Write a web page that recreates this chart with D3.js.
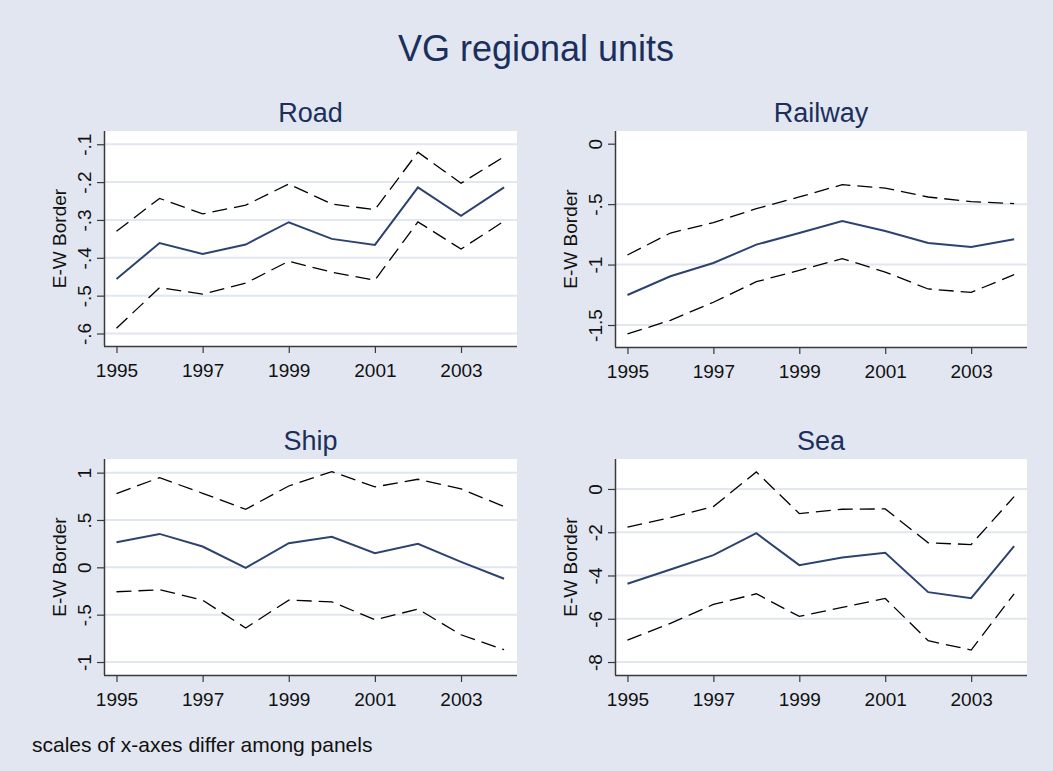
<!DOCTYPE html>
<html>
<head>
<meta charset="utf-8">
<script src="https://cdn.jsdelivr.net/npm/d3@7"></script>
<style>
  html, body { margin: 0; padding: 0; background: #e1e6f0; }
  svg { display: block; font-family: "Liberation Sans", Arial, sans-serif; }
</style>
</head>
<body>
<svg id="chart" width="1053" height="771"></svg>
<script>
// years shared by all four panels
const years = [1995, 1996, 1997, 1998, 1999, 2000, 2001, 2002, 2003, 2004];
const xTicks = [1995, 1997, 1999, 2001, 2003];

// point estimate and upper / lower confidence bands
const roadMid = [-0.456, -0.361, -0.390, -0.365, -0.306, -0.350, -0.366, -0.214, -0.289, -0.214];
const roadHi  = [-0.330, -0.243, -0.284, -0.261, -0.205, -0.258, -0.273, -0.121, -0.203, -0.133];
const roadLo  = [-0.586, -0.479, -0.496, -0.467, -0.409, -0.438, -0.459, -0.305, -0.377, -0.303];
const roadTicks = [-0.1, -0.2, -0.3, -0.4, -0.5, -0.6];

const railMid = [-1.252, -1.097, -0.987, -0.835, -0.739, -0.640, -0.722, -0.822, -0.855, -0.791];
const railHi  = [-0.921, -0.739, -0.653, -0.538, -0.441, -0.339, -0.367, -0.441, -0.480, -0.496];
const railLo  = [-1.574, -1.461, -1.312, -1.142, -1.048, -0.951, -1.062, -1.202, -1.230, -1.084];
const railTicks = [0, -0.5, -1, -1.5];

const shipMid = [0.265, 0.353, 0.220, -0.005, 0.255, 0.322, 0.149, 0.248, 0.058, -0.121];
const shipHi  = [0.779, 0.947, 0.782, 0.613, 0.859, 1.011, 0.849, 0.930, 0.828, 0.641];
const shipLo  = [-0.258, -0.237, -0.346, -0.641, -0.346, -0.364, -0.554, -0.441, -0.712, -0.870];
const shipTicks = [1, 0.5, 0, -0.5, -1];

const seaMid = [-4.385, -3.723, -3.062, -2.046, -3.523, -3.169, -2.954, -4.769, -5.046, -2.646];
const seaHi  = [-1.769, -1.323, -0.815, 0.785, -1.138, -0.938, -0.923, -2.492, -2.569, -0.354];
const seaLo  = [-6.985, -6.215, -5.338, -4.846, -5.892, -5.477, -5.062, -7.015, -7.446, -4.846];
const seaTicks = [0, -2, -4, -6, -8];

const panels = [
  { title: "Road", mid: roadMid, hi: roadHi, lo: roadLo, ticks: roadTicks,
    yDomain: [-0.633, -0.065], box: { left: 104, right: 517, top: 131, bottom: 346 } },
  { title: "Railway", mid: railMid, hi: railHi, lo: railLo, ticks: railTicks, noGrid: [0],
    yDomain: [-1.682, 0.105], box: { left: 615, right: 1027, top: 131, bottom: 347 } },
  { title: "Ship", mid: shipMid, hi: shipHi, lo: shipLo, ticks: shipTicks,
    yDomain: [-1.137, 1.144], box: { left: 104, right: 517, top: 459, bottom: 675 } },
  { title: "Sea", mid: seaMid, hi: seaHi, lo: seaLo, ticks: seaTicks,
    yDomain: [-8.6, 1.385], box: { left: 615, right: 1027, top: 459, bottom: 675 } }
];

const NAVY = "#1c2f5c";
const LINE_NAVY = "#2c4370";
const AXIS = "#3a3a3a";
const GRID = "#e1e6f0";
const FONT = 19;

// Stata style tick labels: -.5, .5, 0, -1.5
const stataFmt = d => (d === 0 ? "0" : String(d).replace(/^(-?)0\./, "$1."));

const svg = d3.select("#chart");

svg.append("rect")
  .attr("width", 1053).attr("height", 771)
  .attr("fill", "#e1e6f0");

svg.append("text")
  .attr("x", 536).attr("y", 61)
  .attr("text-anchor", "middle")
  .attr("font-size", 36)
  .attr("fill", NAVY)
  .text("VG regional units");

panels.forEach(p => {
  const b = p.box;
  const x = d3.scaleLinear().domain([1994.71, 2004.3]).range([b.left, b.right]);
  const y = d3.scaleLinear().domain(p.yDomain).range([b.bottom, b.top]);
  const g = svg.append("g");

  g.append("rect")
    .attr("x", b.left).attr("y", b.top)
    .attr("width", b.right - b.left).attr("height", b.bottom - b.top)
    .attr("fill", "#ffffff");

  // horizontal grid lines
  g.selectAll("line.grid")
    .data(p.ticks.filter(t => !(p.noGrid || []).includes(t)))
    .join("line")
    .attr("class", "grid")
    .attr("x1", b.left).attr("x2", b.right)
    .attr("y1", d => y(d)).attr("y2", d => y(d))
    .attr("stroke", GRID)
    .attr("stroke-width", 2);

  g.append("text")
    .attr("x", (b.left + b.right) / 2)
    .attr("y", b.top - 9)
    .attr("text-anchor", "middle")
    .attr("font-size", 27)
    .attr("fill", NAVY)
    .text(p.title);

  const line = d3.line().x((d, i) => x(years[i])).y(d => y(d));

  [p.hi, p.lo].forEach(series => {
    g.append("path")
      .attr("d", line(series))
      .attr("fill", "none")
      .attr("stroke", "#000000")
      .attr("stroke-width", 1.3)
      .attr("stroke-dasharray", "15,7");
  });

  g.append("path")
    .attr("d", line(p.mid))
    .attr("fill", "none")
    .attr("stroke", LINE_NAVY)
    .attr("stroke-width", 2);

  // y axis with rotated labels
  const yAxis = g.append("g")
    .attr("transform", `translate(${b.left},0)`)
    .call(d3.axisLeft(y).tickValues(p.ticks).tickFormat(stataFmt).tickSize(7).tickSizeOuter(0));
  yAxis.select(".domain").attr("d", `M0.5,${b.top}V${b.bottom}`);
  yAxis.selectAll("line").attr("stroke", AXIS).attr("stroke-width", 1.2);
  yAxis.select(".domain").attr("stroke", AXIS).attr("stroke-width", 1.5);
  yAxis.selectAll("text")
    .attr("transform", "rotate(-90)")
    .attr("x", 0).attr("y", -13).attr("dy", 0)
    .attr("text-anchor", "middle")
    .attr("font-size", FONT)
    .attr("font-family", "Liberation Sans, Arial, sans-serif")
    .attr("fill", "#111");

  // x axis
  const xAxis = g.append("g")
    .attr("transform", `translate(0,${b.bottom})`)
    .call(d3.axisBottom(x).tickValues(xTicks).tickFormat(d3.format("d")).tickSize(7).tickSizeOuter(0));
  xAxis.select(".domain").attr("d", `M${b.left},0.5H${b.right}`).attr("stroke", AXIS).attr("stroke-width", 1.5);
  xAxis.selectAll("line").attr("stroke", AXIS).attr("stroke-width", 1.2);
  xAxis.selectAll("text")
    .attr("y", 31).attr("dy", 0)
    .attr("font-size", FONT)
    .attr("font-family", "Liberation Sans, Arial, sans-serif")
    .attr("fill", "#111");

  g.append("text")
    .attr("transform", `translate(${b.left - 38},${(b.top + b.bottom) / 2}) rotate(-90)`)
    .attr("text-anchor", "middle")
    .attr("font-size", FONT)
    .attr("fill", "#111")
    .text("E-W Border");
});

svg.append("text")
  .attr("x", 32).attr("y", 752)
  .attr("font-size", 21)
  .attr("fill", "#111")
  .text("scales of x-axes differ among panels");
</script>
</body>
</html>
